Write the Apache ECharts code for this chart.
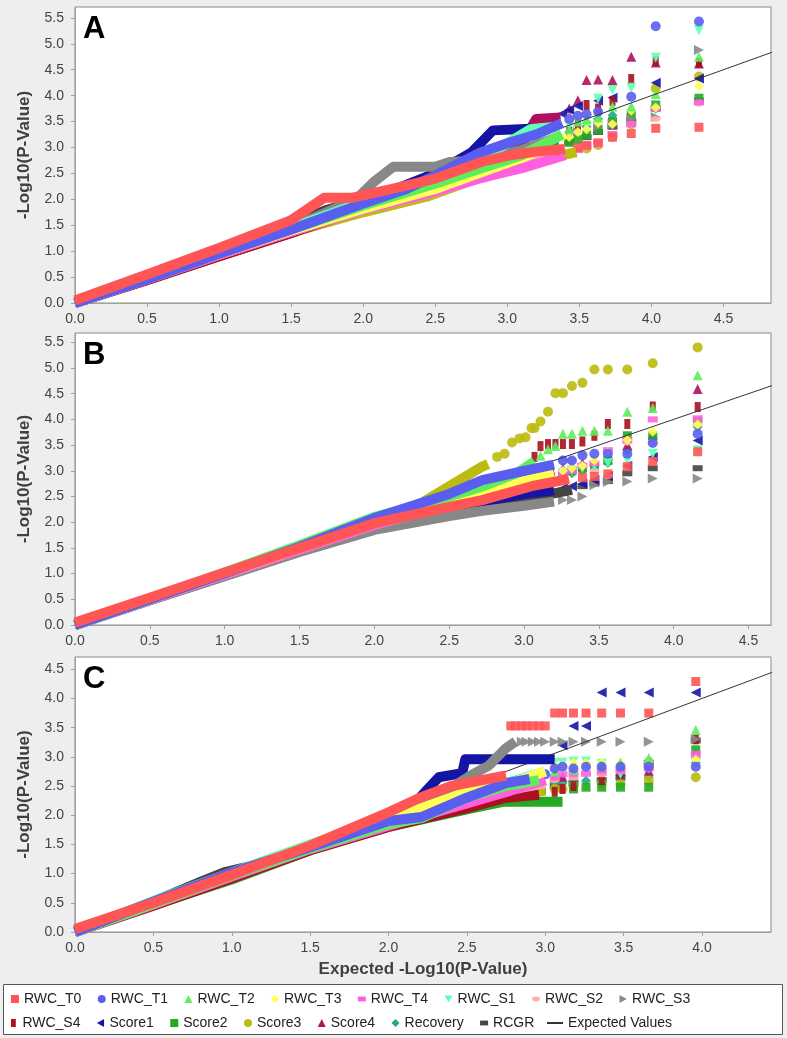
<!DOCTYPE html>
<html><head><meta charset="utf-8">
<script src="https://cdn.jsdelivr.net/npm/echarts@6/dist/echarts.min.js"></script>
<style>html,body{margin:0;padding:0;background:#eeeeee}#c{width:787px;height:1038px}</style>
</head><body><div id="c"></div>
<script>
// ---- series meta ----
var seriesNames = ['RWC_T0','RWC_T1','RWC_T2','RWC_T3','RWC_T4','RWC_S1','RWC_S2','RWC_S3','RWC_S4','Score1','Score2','Score3','Score4','Recovery','RCGR'];
var seriesKeys = ['T0','T1','T2','T3','T4','S1','S2','S3','S4','Sc1','Sc2','Sc3','Sc4','Rec','RCGR'];
var seriesColors = ['#ff5555','#5a5ef0','#5cee5c','#ffff55','#ff5fdf','#5fffb4','#ffafaf','#888888','#aa1020','#1515a5','#22aa22','#bbbb10','#b0105e','#1fa98a','#444444'];
var panelLetters = ['A','B','C'];
var panelPrefix = ['A','B','C'];
var xMaxes = [4.83, 4.65, 4.44];
var yMaxes = [5.71, 5.68, 4.71];
var xTicksA = [0,0.5,1,1.5,2,2.5,3,3.5,4,4.5];
var xTicksB = [0,0.5,1,1.5,2,2.5,3,3.5,4,4.5];
var xTicksC = [0,0.5,1,1.5,2,2.5,3,3.5,4];
var yTicksA = [0,0.5,1,1.5,2,2.5,3,3.5,4,4.5,5,5.5];
var yTicksB = [0,0.5,1,1.5,2,2.5,3,3.5,4,4.5,5,5.5];
var yTicksC = [0,0.5,1,1.5,2,2.5,3,3.5,4,4.5];
var expectedLine = [[0,0],[6,6]];

// ---- Panel A ----
var A_T0_band = [[0,0.05],[0.5,0.55],[1,1.06],[1.5,1.6],[1.73,2.03],[1.92,2.03],[2.2,2.2],[2.5,2.4],[2.82,2.72],[3.0,2.84],[3.2,2.92],[3.4,2.97]];
var A_T0_tail = [[3.49,3.0],[3.55,3.04],[3.63,3.09],[3.73,3.2],[3.86,3.27],[4.03,3.37],[4.33,3.39]];
var A_T1_band = [[0,0],[0.5,0.46],[1,0.95],[1.5,1.42],[2,1.92],[2.3,2.2],[2.5,2.46],[2.81,2.9],[3.0,3.08],[3.2,3.25],[3.38,3.47]];
var A_T1_tail = [[3.43,3.55],[3.49,3.61],[3.55,3.64],[3.63,3.69],[3.86,3.98],[4.03,5.34],[4.33,5.43]];
var A_T2_band = [[0,0],[0.5,0.48],[1,0.97],[1.5,1.42],[2,1.88],[2.5,2.3],[2.8,2.58],[3.1,2.85],[3.38,3.25]];
var A_T2_tail = [[3.43,3.35],[3.49,3.5],[3.55,3.55],[3.63,3.58],[3.73,3.79],[3.86,3.79],[4.03,4.03],[4.33,4.75]];
var A_T3_band = [[0,0],[0.5,0.47],[1,0.95],[1.5,1.4],[2,1.82],[2.5,2.2],[2.8,2.5],[3.1,2.8],[3.3,3.05]];
var A_T3_tail = [[3.38,3.19],[3.43,3.2],[3.49,3.3],[3.55,3.35],[3.63,3.47],[3.73,3.45],[3.86,3.71],[4.03,3.77],[4.33,4.18]];
var A_T4_band = [[0,0],[0.5,0.46],[1,0.93],[1.5,1.38],[2,1.8],[2.5,2.15],[2.8,2.4],[3.1,2.6],[3.4,2.85]];
var A_T4_tail = [[3.49,2.95],[3.55,3.05],[3.63,3.1],[3.73,3.26],[3.86,3.45],[4.03,3.75],[4.33,3.87]];
var A_S1_band = [[0,0],[0.5,0.5],[1,0.98],[1.5,1.45],[2,1.95],[2.5,2.4],[2.8,2.75],[3.16,3.35],[3.34,3.4]];
var A_S1_tail = [[3.43,3.42],[3.55,3.42],[3.63,3.94],[3.73,4.11],[3.86,4.15],[4.03,4.73],[4.33,5.26]];
var A_S2_band = [[0,0],[0.5,0.46],[1,0.93],[1.5,1.38],[2,1.8],[2.5,2.15],[2.8,2.4],[3.1,2.65],[3.3,2.8]];
var A_S2_tail = [[3.43,2.9],[3.55,3.0],[3.63,3.05],[3.73,3.2],[3.86,3.45],[4.03,3.55],[4.33,3.85]];
var A_S3_band = [[0,0],[0.5,0.48],[1,0.97],[1.5,1.45],[1.95,2.0],[2.08,2.35],[2.21,2.63],[2.5,2.63],[2.6,2.72],[2.8,2.75],[3.1,2.95],[3.35,3.2]];
var A_S3_tail = [[3.49,3.3],[3.63,3.4],[3.73,3.45],[3.86,3.55],[4.03,3.59],[4.33,4.88]];
var A_S4_band = [[0,0],[0.5,0.44],[1,0.9],[1.5,1.35],[2,1.82],[2.5,2.25],[2.8,2.55],[3.1,2.85],[3.3,3.05]];
var A_S4_tail = [[3.43,3.3],[3.49,3.43],[3.55,3.82],[3.63,3.75],[3.73,3.9],[3.86,4.32],[4.03,4.67],[4.33,4.63]];
var A_Sc1_band = [[0,0],[0.5,0.47],[1,0.97],[1.5,1.45],[2,1.95],[2.5,2.5],[2.75,2.9],[2.9,3.33],[3.16,3.36]];
var A_Sc1_tail = [[3.29,3.55],[3.38,3.65],[3.43,3.73],[3.49,3.8],[3.63,3.9],[3.73,3.96],[4.03,4.25],[4.33,4.33]];
var A_Sc2_band = [[0,0],[0.5,0.46],[1,0.93],[1.5,1.38],[2,1.82],[2.5,2.2],[2.8,2.45],[3.1,2.75],[3.35,3.0]];
var A_Sc2_tail = [[3.43,3.1],[3.49,3.15],[3.55,3.24],[3.63,3.35],[3.73,3.5],[3.86,3.6],[4.03,3.82],[4.33,3.95]];
var A_Sc3_band = [[0,0],[0.5,0.45],[1,0.92],[1.5,1.36],[2,1.75],[2.44,2.05],[2.81,2.42],[3.1,2.65],[3.3,2.8],[3.48,2.91]];
var A_Sc3_tail = [[3.55,2.98],[3.63,3.05],[3.73,3.2],[3.86,3.45],[4.03,4.14],[4.33,4.37]];
var A_Sc4_band = [[0,0],[0.5,0.45],[1,0.9],[1.5,1.35],[2,1.85],[2.5,2.35],[2.8,2.7],[3.1,3.05],[3.2,3.55],[3.37,3.58]];
var A_Sc4_tail = [[3.43,3.75],[3.49,3.91],[3.55,4.3],[3.63,4.31],[3.73,4.3],[3.86,4.75],[4.03,4.64],[4.33,4.62]];
var A_Rec_band = [[0,0],[0.5,0.47],[1,0.95],[1.5,1.4],[2,1.85],[2.5,2.3],[2.8,2.6],[3.1,2.9],[3.35,3.15]];
var A_Rec_tail = [[3.43,3.3],[3.55,3.4],[3.63,3.55],[3.73,3.62],[3.86,3.7],[4.03,3.75],[4.33,3.88]];
var A_RCGR_band = [[0,0],[0.5,0.51],[1,1.03],[1.5,1.52],[1.75,1.8],[2,2.0],[2.5,2.4],[2.8,2.6],[3.1,2.9],[3.3,3.0]];
var A_RCGR_tail = [[3.43,3.1],[3.55,3.2],[3.63,3.3],[3.73,3.4],[3.86,3.5],[4.03,3.75],[4.33,3.9]];

// ---- Panel B ----
var B_T0_band = [[0,0.05],[0.5,0.53],[1,1.02],[1.5,1.5],[2,1.98],[2.5,2.3],[2.72,2.43],[3.05,2.7],[3.3,2.84]];
var B_T0_tail = [[3.39,2.87],[3.47,2.89],[3.56,2.94],[3.69,3.08],[3.86,3.18],[4.16,3.37]];
var B_T1_band = [[0,0],[0.5,0.5],[1,1.0],[1.5,1.52],[2,2.08],[2.5,2.55],[2.72,2.82],[3.0,3.0],[3.2,3.12]];
var B_T1_tail = [[3.26,3.2],[3.32,3.2],[3.39,3.3],[3.47,3.33],[3.56,3.33],[3.69,3.33],[3.86,3.54],[4.16,3.72]];
var B_T2_band = [[0,0],[0.5,0.5],[1,1.02],[1.5,1.55],[2,2.1],[2.5,2.5],[2.72,2.69],[2.95,2.95],[3.07,3.18]];
var B_T2_tail = [[3.11,3.29],[3.16,3.42],[3.21,3.48],[3.26,3.72],[3.32,3.72],[3.39,3.78],[3.47,3.78],[3.56,3.78],[3.69,4.15],[3.86,4.22],[4.16,4.86]];
var B_T3_band = [[0,0],[0.5,0.5],[1,1.0],[1.5,1.5],[2,2.0],[2.5,2.4],[2.72,2.6],[3.0,2.8],[3.2,2.95]];
var B_T3_tail = [[3.26,3.0],[3.32,3.05],[3.39,3.1],[3.47,3.2],[3.56,3.35],[3.69,3.6],[3.86,3.76],[4.16,3.9]];
var B_T4_band = [[0,0],[0.5,0.49],[1,0.98],[1.5,1.47],[2,1.95],[2.5,2.35],[2.72,2.5],[3.0,2.7],[3.2,2.85]];
var B_T4_tail = [[3.26,2.95],[3.32,3.0],[3.39,3.1],[3.47,3.15],[3.56,3.4],[3.69,3.6],[3.86,4.0],[4.16,4.02]];
var B_S1_band = [[0,0],[0.5,0.5],[1,1.0],[1.5,1.52],[2,2.05],[2.5,2.45],[2.72,2.62],[3.0,2.8],[3.2,2.9]];
var B_S1_tail = [[3.26,2.95],[3.32,3.0],[3.39,3.05],[3.47,3.1],[3.56,3.15],[3.69,3.2],[3.86,3.33],[4.16,3.4]];
var B_S2_band = [[0,0],[0.5,0.49],[1,0.98],[1.5,1.47],[2,1.95],[2.5,2.35],[2.72,2.5],[3.0,2.7],[3.2,2.9]];
var B_S2_tail = [[3.26,3.2],[3.32,3.2],[3.39,3.1],[3.47,3.0],[3.56,2.9],[3.69,3.55],[3.86,3.55],[4.16,3.9]];
var B_S3_band = [[0,0],[0.5,0.48],[1,0.95],[1.5,1.42],[2,1.85],[2.5,2.12],[2.72,2.22],[3.0,2.32],[3.2,2.4]];
var B_S3_tail = [[3.26,2.43],[3.32,2.43],[3.39,2.5],[3.47,2.72],[3.56,2.78],[3.69,2.79],[3.86,2.85],[4.16,2.85]];
var B_S4_band = [[0,0],[0.5,0.49],[1,0.98],[1.5,1.48],[2,1.98],[2.5,2.45],[2.72,2.75],[2.95,2.95],[3.04,3.1]];
var B_S4_tail = [[3.07,3.27],[3.11,3.48],[3.16,3.52],[3.21,3.52],[3.26,3.52],[3.32,3.52],[3.39,3.57],[3.47,3.68],[3.56,3.91],[3.69,3.91],[3.86,4.25],[4.16,4.24]];
var B_Sc1_band = [[0,0],[0.5,0.5],[1,1.0],[1.5,1.48],[2,1.95],[2.5,2.3],[2.72,2.4],[3.0,2.55],[3.2,2.62]];
var B_Sc1_tail = [[3.26,2.66],[3.32,2.7],[3.39,2.75],[3.47,2.82],[3.56,2.9],[3.69,3.1],[3.86,3.27],[4.16,3.59]];
var B_Sc2_band = [[0,0],[0.5,0.5],[1,1.0],[1.5,1.5],[2,2.0],[2.5,2.4],[2.72,2.55],[3.0,2.75],[3.2,2.9]];
var B_Sc2_tail = [[3.26,2.95],[3.32,3.0],[3.39,3.05],[3.47,3.1],[3.56,3.2],[3.69,3.68],[3.86,3.68],[4.16,3.96]];
var B_Sc3_band = [[0,0],[0.5,0.5],[1,1.0],[1.5,1.5],[2,2.02],[2.3,2.35],[2.5,2.7],[2.72,3.08],[2.76,3.13]];
var B_Sc3_tail = [[2.82,3.27],[2.87,3.33],[2.92,3.55],[2.97,3.63],[3.01,3.65],[3.05,3.83],[3.07,3.83],[3.11,3.96],[3.16,4.15],[3.21,4.51],[3.26,4.51],[3.32,4.65],[3.39,4.71],[3.47,4.97],[3.56,4.97],[3.69,4.97],[3.86,5.09],[4.16,5.40]];
var B_Sc4_band = [[0,0],[0.5,0.49],[1,0.98],[1.5,1.48],[2,1.98],[2.5,2.42],[2.72,2.6],[3.0,2.85],[3.2,3.0]];
var B_Sc4_tail = [[3.26,3.05],[3.32,3.1],[3.39,3.15],[3.47,3.2],[3.56,3.3],[3.69,3.5],[3.86,3.7],[4.16,4.59]];
var B_Rec_band = [[0,0],[0.5,0.5],[1,1.0],[1.5,1.5],[2,2.0],[2.5,2.4],[2.72,2.55],[3.0,2.72],[3.2,2.85]];
var B_Rec_tail = [[3.26,2.9],[3.32,2.95],[3.39,3.0],[3.47,3.1],[3.56,3.15],[3.69,3.4],[3.86,3.65],[4.16,3.85]];
var B_RCGR_band = [[0,0],[0.5,0.48],[1,0.96],[1.5,1.44],[2,1.9],[2.5,2.2],[2.72,2.3],[3.0,2.45],[3.32,2.63]];
var B_RCGR_tail = [[3.39,2.7],[3.47,2.75],[3.56,2.8],[3.69,2.95],[3.86,3.05],[4.16,3.05]];

// ---- Panel C ----
var C_T0_band = [[0,0.05],[0.5,0.5],[1,0.98],[1.5,1.48],[2,2.05],[2.2,2.3],[2.4,2.5],[2.75,2.68]];
var C_T0_tail = [[2.78,3.53],[2.81,3.53],[2.85,3.53],[2.88,3.53],[2.92,3.53],[2.96,3.53],[3.0,3.53],[3.06,3.75],[3.11,3.75],[3.18,3.75],[3.26,3.75],[3.36,3.75],[3.48,3.75],[3.66,3.75],[3.96,4.29]];
var C_T1_band = [[0,0],[0.5,0.52],[1,1.02],[1.5,1.45],[2,1.9],[2.21,1.97],[2.5,2.3],[2.75,2.55],[2.9,2.62]];
var C_T1_tail = [[2.96,2.65],[3.0,2.7],[3.06,2.8],[3.11,2.83],[3.18,2.8],[3.26,2.83],[3.36,2.83],[3.48,2.83],[3.66,2.83],[3.96,2.83]];
var C_T2_band = [[0,0],[0.5,0.48],[1,0.97],[1.5,1.43],[2,1.85],[2.21,1.95],[2.5,2.3],[2.75,2.5],[2.96,2.6]];
var C_T2_tail = [[3.06,2.75],[3.18,2.78],[3.36,2.85],[3.48,2.9],[3.66,2.98],[3.96,3.46]];
var C_T3_band = [[0,0],[0.5,0.5],[1,1.0],[1.5,1.47],[2,1.95],[2.21,2.12],[2.5,2.4],[2.75,2.52],[3.0,2.75]];
var C_T3_tail = [[3.06,2.85],[3.11,2.85],[3.18,2.9],[3.26,2.9],[3.36,2.9],[3.48,2.89],[3.66,2.92],[3.96,2.95]];
var C_T4_band = [[0,0],[0.5,0.47],[1,0.95],[1.5,1.42],[2,1.82],[2.5,2.2],[2.75,2.4],[3.0,2.6]];
var C_T4_tail = [[3.06,2.65],[3.11,2.7],[3.18,2.71],[3.26,2.71],[3.36,2.76],[3.48,2.76],[3.66,2.8],[3.96,3.05]];
var C_S1_band = [[0,0],[0.5,0.53],[1,1.02],[1.5,1.5],[2,1.95],[2.5,2.35],[2.75,2.55],[3.0,2.75]];
var C_S1_tail = [[3.06,2.9],[3.11,2.9],[3.18,2.92],[3.26,2.92],[3.36,2.88],[3.48,2.7],[3.66,2.8],[3.96,2.9]];
var C_S2_band = [[0,0],[0.5,0.49],[1,0.97],[1.5,1.45],[2,1.85],[2.5,2.25],[2.75,2.42],[3.0,2.55]];
var C_S2_tail = [[3.06,2.6],[3.18,2.65],[3.36,2.7],[3.48,2.75],[3.66,2.8],[3.96,3.0]];
var C_S3_band = [[0,0],[0.5,0.5],[1,1.0],[1.5,1.47],[2,1.9],[2.3,2.3],[2.53,2.69],[2.64,2.85],[2.75,3.15],[2.81,3.26]];
var C_S3_tail = [[2.85,3.26],[2.88,3.26],[2.92,3.26],[2.96,3.26],[3.0,3.26],[3.06,3.26],[3.11,3.26],[3.18,3.26],[3.26,3.26],[3.36,3.26],[3.48,3.26],[3.66,3.26],[3.96,3.3]];
var C_S4_band = [[0,0],[0.5,0.45],[1,0.92],[1.5,1.4],[2,1.8],[2.5,2.12],[2.75,2.3],[2.96,2.35]];
var C_S4_tail = [[3.06,2.4],[3.11,2.45],[3.18,2.5],[3.36,2.6],[3.48,2.7],[3.66,2.9],[3.96,3.3]];
var C_Sc1_band = [[0,0],[0.5,0.5],[1,1.0],[1.5,1.47],[2,1.95],[2.2,2.3],[2.32,2.65],[2.47,2.72],[2.49,2.96],[3.06,2.96]];
var C_Sc1_tail = [[3.11,3.2],[3.18,3.53],[3.26,3.53],[3.36,4.1],[3.48,4.1],[3.66,4.1],[3.96,4.1]];
var C_Sc2_band = [[0,0],[0.5,0.46],[1,0.9],[1.5,1.4],[2,1.8],[2.5,2.1],[2.73,2.23],[3.11,2.23]];
var C_Sc2_tail = [[3.18,2.45],[3.26,2.48],[3.36,2.48],[3.48,2.48],[3.66,2.48],[3.96,3.12]];
var C_Sc3_band = [[0,0],[0.5,0.48],[1,0.96],[1.5,1.44],[2,1.85],[2.5,2.2],[2.75,2.35],[3.0,2.42]];
var C_Sc3_tail = [[3.06,2.45],[3.11,2.45],[3.18,2.5],[3.36,2.53],[3.48,2.53],[3.66,2.59],[3.96,2.65]];
var C_Sc4_band = [[0,0],[0.5,0.47],[1,0.95],[1.5,1.42],[2,1.85],[2.5,2.2],[2.75,2.4],[3.0,2.6]];
var C_Sc4_tail = [[3.06,2.65],[3.11,2.66],[3.18,2.7],[3.36,2.76],[3.48,2.76],[3.66,2.76],[3.96,3.05]];
var C_Rec_band = [[0,0],[0.5,0.5],[1,0.98],[1.5,1.45],[2,1.87],[2.5,2.25],[2.75,2.4],[3.0,2.5]];
var C_Rec_tail = [[3.06,2.55],[3.11,2.55],[3.18,2.58],[3.26,2.59],[3.36,2.59],[3.48,2.6],[3.66,2.65],[3.96,2.9]];
var C_RCGR_band = [[0,0.02],[0.5,0.52],[0.8,0.86],[0.95,1.02],[1.2,1.18],[1.5,1.45],[2,1.85],[2.5,2.2],[2.75,2.35],[3.0,2.45]];
var C_RCGR_tail = [[3.06,2.5],[3.18,2.55],[3.36,2.6],[3.48,2.65],[3.66,2.9],[3.96,3.28]];

// ---- styling (not data) ----
var symDefs = [
  {symbol:'rect', size:9, rot:0, icon:'rect'},
  {symbol:'circle', size:10, rot:0, icon:'circle'},
  {symbol:'triangle', size:10, rot:0, icon:'triangle'},
  {symbol:'diamond', size:10, rot:0, icon:'diamond'},
  {symbol:'rect', size:[10,6], rot:0, icon:'path://M0,0h10v6h-10z'},
  {symbol:'triangle', size:10, rot:180, icon:'path://M0,0h10l-5,9z'},
  {symbol:'circle', size:[10,6], rot:0, icon:'path://M0,3a5,3 0 1,0 10,0a5,3 0 1,0 -10,0z'},
  {symbol:'triangle', size:10, rot:-90, icon:'path://M0,0l9,5l-9,5z'},
  {symbol:'rect', size:[6,10], rot:0, icon:'path://M0,0h6v10h-6z'},
  {symbol:'triangle', size:10, rot:90, icon:'path://M9,0v10l-9,-5z'},
  {symbol:'rect', size:9, rot:0, icon:'rect'},
  {symbol:'circle', size:10, rot:0, icon:'circle'},
  {symbol:'triangle', size:10, rot:0, icon:'triangle'},
  {symbol:'diamond', size:10, rot:0, icon:'diamond'},
  {symbol:'rect', size:[10,6], rot:0, icon:'path://M0,0h10v6h-10z'}
];
var gridPos = [
  {left:75, top:7, width:696, height:296},
  {left:75, top:333, width:696, height:292},
  {left:75, top:657, width:696, height:275}
];
var xTicks = [xTicksA, xTicksB, xTicksC];
var yTicks = [yTicksA, yTicksB, yTicksC];
var FONT = 'Liberation Sans';

var grids = [], xAxes = [], yAxes = [], series = [], graphics = [];
for (var p = 0; p < 3; p++) {
  var g = gridPos[p];
  grids.push({left:g.left, top:g.top, width:g.width, height:g.height, show:true, backgroundColor:'#ffffff', borderColor:'#8a8a8a', borderWidth:1});
  xAxes.push({gridIndex:p, type:'value', min:0, max:xMaxes[p], interval:0.5, offset:4,
    axisLine:{show:true, lineStyle:{color:'#a0a0a0'}},
    axisTick:{show:true, length:4, lineStyle:{color:'#a0a0a0'}, customValues:xTicks[p]},
    axisLabel:{customValues:xTicks[p], formatter:function(v){return v.toFixed(1);}, color:'#444', fontSize:14, fontFamily:FONT, margin:5},
    splitLine:{show:false}});
  yAxes.push({gridIndex:p, type:'value', min:0, max:yMaxes[p], interval:0.5, offset:5,
    axisLine:{show:true, lineStyle:{color:'#a0a0a0'}},
    axisTick:{show:true, length:4, lineStyle:{color:'#a0a0a0'}, customValues:yTicks[p]},
    axisLabel:{customValues:yTicks[p], formatter:function(v){return v.toFixed(1);}, color:'#444', fontSize:14, fontFamily:FONT, margin:6},
    splitLine:{show:false}});
  series.push({type:'line', name:'Expected Values', xAxisIndex:p, yAxisIndex:p, data:expectedLine, symbol:'none',
    lineStyle:{color:'#333', width:1}, itemStyle:{color:'#333'}, silent:true, clip:true});
  for (var s = seriesKeys.length - 1; s >= 0; s--) {
    var pre = panelPrefix[p] + '_' + seriesKeys[s];
    var col = seriesColors[s], sd = symDefs[s];
    series.push({type:'line', name:seriesNames[s], xAxisIndex:p, yAxisIndex:p, data:window[pre + '_band'],
      symbol:'none', showSymbol:false, lineStyle:{color:col, width:10, join:'round'}, itemStyle:{color:col}, silent:true, clip:true});
    series.push({type:'scatter', name:seriesNames[s], xAxisIndex:p, yAxisIndex:p, data:window[pre + '_tail'],
      symbol:sd.symbol, symbolSize:sd.size, symbolRotate:sd.rot, itemStyle:{color:col, opacity:0.9}, silent:true, clip:true});
  }
  graphics.push({type:'text', x:83, y:g.top + 22, style:{text:panelLetters[p], font:'bold 31px "' + FONT + '"', fill:'#000', textAlign:'left', textVerticalAlign:'middle'}});
  graphics.push({type:'text', x:24, y:g.top + g.height / 2, rotation:Math.PI / 2, style:{text:'-Log10(P-Value)', font:'bold 17px "' + FONT + '"', fill:'#404040', textAlign:'center', textVerticalAlign:'middle'}});
}
graphics.push({type:'text', x:423, y:969, style:{text:'Expected -Log10(P-Value)', font:'bold 17px "' + FONT + '"', fill:'#404040', textAlign:'center', textVerticalAlign:'middle'}});
graphics.push({type:'rect', shape:{x:3.5, y:984.5, width:779, height:50}, style:{fill:'#ffffff', stroke:'#555555', lineWidth:1}, z:-1});

var row1 = [], row2 = [];
for (var i = 0; i < seriesNames.length; i++) {
  var item = {name:seriesNames[i], icon:symDefs[i].icon};
  if (i < 8) row1.push(item); else row2.push(item);
}
var legTxt = {fontFamily:FONT, fontSize:14, color:'#222'};
var option = {
  backgroundColor:'#eeeeee',
  animation:false,
  grid:grids, xAxis:xAxes, yAxis:yAxes,
  legend:[
    {left:11, top:992, itemWidth:8, itemHeight:8, itemGap:16.4, data:row1, textStyle:legTxt, selectedMode:false, padding:0},
    {left:11, top:1016, itemWidth:8, itemHeight:8, itemGap:16.4, data:row2, textStyle:legTxt, selectedMode:false, padding:0},
    {left:547, top:1016, itemWidth:16, itemHeight:2, data:[{name:'Expected Values', icon:'rect'}], textStyle:legTxt, selectedMode:false, padding:0}
  ],
  graphic:graphics,
  series:series
};
var chart = echarts.init(document.getElementById('c'), null, {renderer:'canvas'});
chart.setOption(option);
</script>
</body></html>
